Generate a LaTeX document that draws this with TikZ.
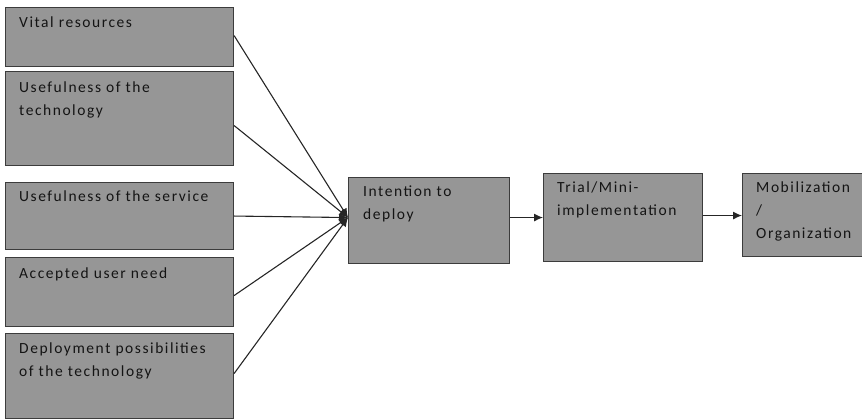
\documentclass[tikz,border=0pt]{standalone}
\usepackage{fontspec}
\newfontfamily\lbl[LetterSpace=10]{Carlito}
\usetikzlibrary{arrows.meta,calc}
\definecolor{boxfill}{RGB}{150,150,150}
\definecolor{boxline}{RGB}{60,60,60}
\definecolor{txt}{RGB}{20,20,20}
\newcommand{\mylines}[1]{\begin{tabular}[t]{@{}l@{}}#1\end{tabular}}
\begin{document}
\begin{tikzpicture}[x=1pt,y=-1pt,
  box/.style={draw=boxline, line width=1.1pt, fill=boxfill, anchor=north west, inner sep=0pt},
  lab/.style={anchor=base west, inner sep=0pt, text=txt,
    font=\lbl\fontsize{15.5}{23}\selectfont},
  conn/.style={draw=black!85, line width=1.1pt, -{Latex[length=9pt,width=8pt]}}]
\useasboundingbox (0,0) rectangle (862,419);
\begin{scope}
\clip (0,0) rectangle (862,419);
% input boxes
\node[box, minimum width=228, minimum height=59] (b1) at (5,7) {};
\node[box, minimum width=228, minimum height=94] (b2) at (5,71) {};
\node[box, minimum width=228, minimum height=67] (b3) at (5,182) {};
\node[box, minimum width=228, minimum height=69] (b4) at (5,257) {};
\node[box, minimum width=228, minimum height=85] (b5) at (5,333) {};
% process boxes
\node[box, minimum width=161, minimum height=86] (int) at (348,177) {};
\node[box, minimum width=159, minimum height=88] (trial) at (543,173) {};
\node[box, minimum width=130, minimum height=83] (mob) at (742,173) {};
\end{scope}
% labels
\node[lab] (t1) at (19,28) {Vital resources};
\node[lab] (t2) at (19,93) {\mylines{Usefulness of the\\technology}};
\node[lab] (t3) at (19,202) {Usefulness of the service};
\node[lab] (t4) at (19,279) {Accepted user need};
\node[lab] (t5) at (19,354) {\mylines{Deployment possibilities\\of the technology}};
\node[lab] (t6) at (363,197) {\mylines{Intention to\\deploy}};
\node[lab] (t7) at (557,193) {\mylines{Trial/Mini-\\implementation}};
\node[lab] (t8) at (756,193) {\mylines{Mobilization\\/\\Organization}};
% connectors
\coordinate (hub) at ([yshift=3pt]int.west);
\draw[conn] ([yshift=1.5pt]b1.east) -- (hub);
\draw[conn] ([yshift=-7pt]b2.east) -- (hub);
\draw[conn] (b3.east) -- (hub);
\draw[conn] ([yshift=-3.5pt]b4.east) -- (hub);
\draw[conn] ([yshift=2.5pt]b5.east) -- (hub);
\draw[conn] (int.east |- hub) -- (trial.west |- hub);
\draw[conn] ([yshift=2pt]trial.east) -- ([yshift=2pt]trial.east -| mob.west);
\end{tikzpicture}
\end{document}
